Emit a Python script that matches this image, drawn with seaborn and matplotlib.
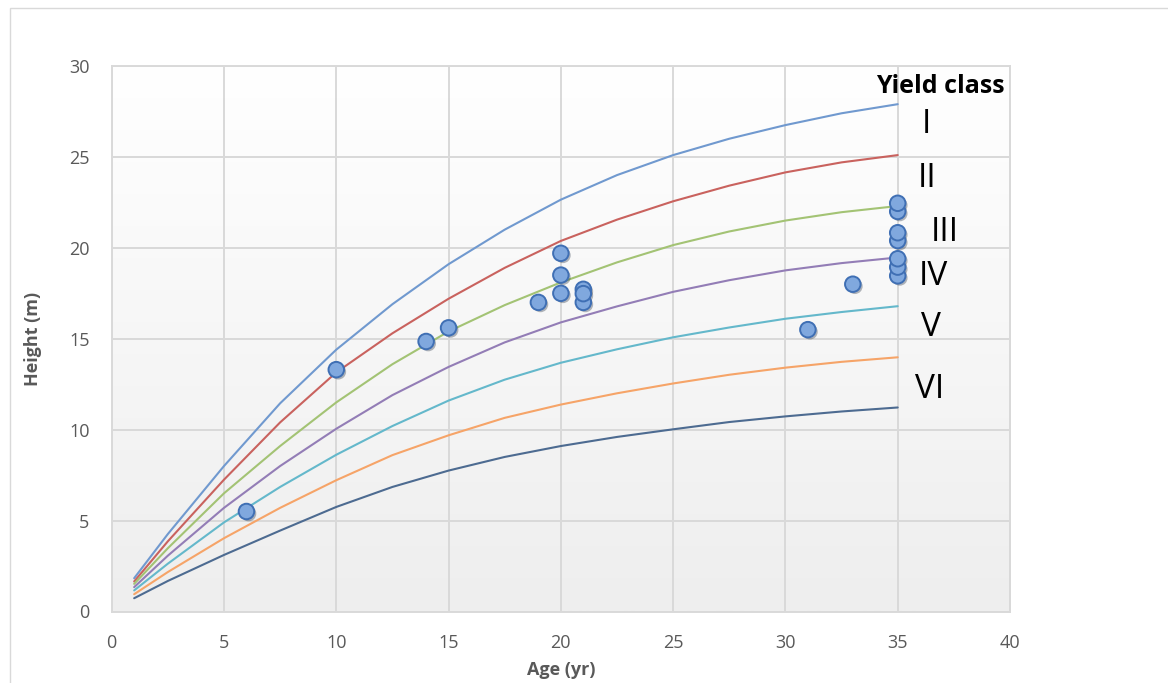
import numpy as np
import pandas as pd
import matplotlib
matplotlib.use("Agg")
import matplotlib.pyplot as plt
import seaborn as sns
from matplotlib import patheffects as pe
from matplotlib.colors import LinearSegmentedColormap
from matplotlib.patches import Rectangle

# ---- data ----
ages = [1, 2.5, 5, 7.5, 10, 12.5, 15, 17.5, 20, 22.5, 25, 27.5, 30, 32.5, 35]
curve_1 = [1.83, 4.26, 8.0, 11.45, 14.4, 16.9, 19.1, 21.0, 22.65, 24.0, 25.1, 26.0, 26.75, 27.4, 27.9]
curve_2 = [1.65, 3.86, 7.25, 10.4, 13.15, 15.3, 17.2, 18.9, 20.38, 21.55, 22.56, 23.42, 24.15, 24.7, 25.1]
curve_3 = [1.52, 3.48, 6.5, 9.1, 11.5, 13.6, 15.4, 16.85, 18.1, 19.2, 20.15, 20.9, 21.5, 21.96, 22.3]
curve_4 = [1.34, 3.07, 5.7, 8.0, 10.05, 11.9, 13.45, 14.8, 15.9, 16.78, 17.58, 18.22, 18.76, 19.16, 19.47]
curve_5 = [1.16, 2.63, 4.9, 6.85, 8.62, 10.2, 11.6, 12.75, 13.68, 14.42, 15.08, 15.62, 16.1, 16.47, 16.79]
curve_6 = [0.95, 2.17, 4.03, 5.7, 7.22, 8.6, 9.69, 10.65, 11.38, 12.0, 12.54, 13.02, 13.41, 13.73, 13.98]
curve_7 = [0.73, 1.68, 3.11, 4.45, 5.75, 6.85, 7.75, 8.5, 9.1, 9.6, 10.02, 10.42, 10.73, 11.0, 11.22]

obs_age = [6, 10, 14, 15, 19, 20, 20, 20, 21, 21, 21, 31, 33, 35, 35, 35, 35, 35, 35, 35]
obs_height = [5.5, 13.3, 14.85, 15.6, 17.0, 19.7, 18.5, 17.5, 17.0, 17.72, 17.48, 15.5, 18.0,
              22.0, 22.45, 20.4, 20.83, 18.46, 18.94, 19.4]

class_labels = ["I", "II", "III", "IV", "V", "VI"]
legend_title = "Yield class"

curve_names = ["c1", "c2", "c3", "c4", "c5", "c6", "c7"]
curve_values = [curve_1, curve_2, curve_3, curve_4, curve_5, curve_6, curve_7]
curve_colors = ["#7099cf", "#c9625e", "#a3c374", "#937db6", "#64b8cb", "#f6a468", "#4d6b91"]

# ---- style ----
sns.set_theme(style="white")
plt.rcParams["font.family"] = ["Open Sans", "DejaVu Sans"]

W, H = 1168, 683
fig = plt.figure(figsize=(W / 100, H / 100), dpi=100)
fig.patch.set_facecolor("white")
ax = fig.add_axes([111.7 / W, (H - 611.5) / H, 898.3 / W, 545.5 / H])

# outer chart frame
fig.add_artist(Rectangle((10 / W, -0.1), 2.0, (H - 8) / H + 0.1, transform=fig.transFigure,
                         fill=False, edgecolor="#d9d9d9", linewidth=1.0))

# gradient plot area (white at top, light grey at bottom)
cmap = LinearSegmentedColormap.from_list("bg", ["#eeeeee", "#ffffff"])
grad = np.linspace(0, 1, 256).reshape(-1, 1)
ax.imshow(grad, extent=[0, 40, 0, 30], aspect="auto", cmap=cmap, zorder=0, origin="lower")

# curves
rows = []
for name, vals in zip(curve_names, curve_values):
    for a, h in zip(ages, vals):
        rows.append({"curve": name, "age": a, "height": h})
df = pd.DataFrame(rows)
sns.lineplot(data=df, x="age", y="height", hue="curve", hue_order=curve_names,
             palette=curve_colors, linewidth=1.5, legend=False, ax=ax,
             estimator=None, sort=False, zorder=3)

# observations
sc = sns.scatterplot(x=obs_age, y=obs_height, s=125, color="#80a8de", edgecolor="#3f6fb4",
                     linewidth=1.4, ax=ax, zorder=5)
sc.collections[-1].set_path_effects([pe.SimplePatchShadow(offset=(1.5, -1.5), alpha=0.35),
                                     pe.Normal()])

# axes
ax.set_xlim(0, 40)
ax.set_ylim(0, 30)
ax.set_xticks(range(0, 41, 5))
ax.set_yticks(range(0, 31, 5))
ax.grid(True, color="#d9d9d9", linewidth=1.4)
ax.set_axisbelow("line")
for s in ax.spines.values():
    s.set_color("#d9d9d9")
    s.set_linewidth(1.4)
ax.tick_params(axis="both", length=0, labelsize=13, labelcolor="#595959")
ax.tick_params(axis="x", pad=16)
ax.tick_params(axis="y", pad=16)
ax.set_xlabel("Age (yr)", fontsize=13, fontweight="bold", color="#595959")
ax.set_ylabel("Height (m)", fontsize=13, fontweight="bold", color="#595959")
ax.xaxis.set_label_coords(0.5, -0.09)
ax.yaxis.set_label_coords(-0.0776, 0.5)

# class labels
ax.text(36.9, 28.85, legend_title, fontsize=18, fontweight="bold", color="black",
        ha="center", va="center", zorder=6)
label_pos = [(36.3, 26.8), (36.3, 23.8), (37.1, 20.85), (36.6, 18.4), (36.5, 15.6), (36.4, 12.2)]
for lab, (lx, ly) in zip(class_labels, label_pos):
    ax.text(lx, ly, lab, fontsize=24, color="black", ha="center", va="center", zorder=6)

fig.savefig("out.png", dpi=100)
